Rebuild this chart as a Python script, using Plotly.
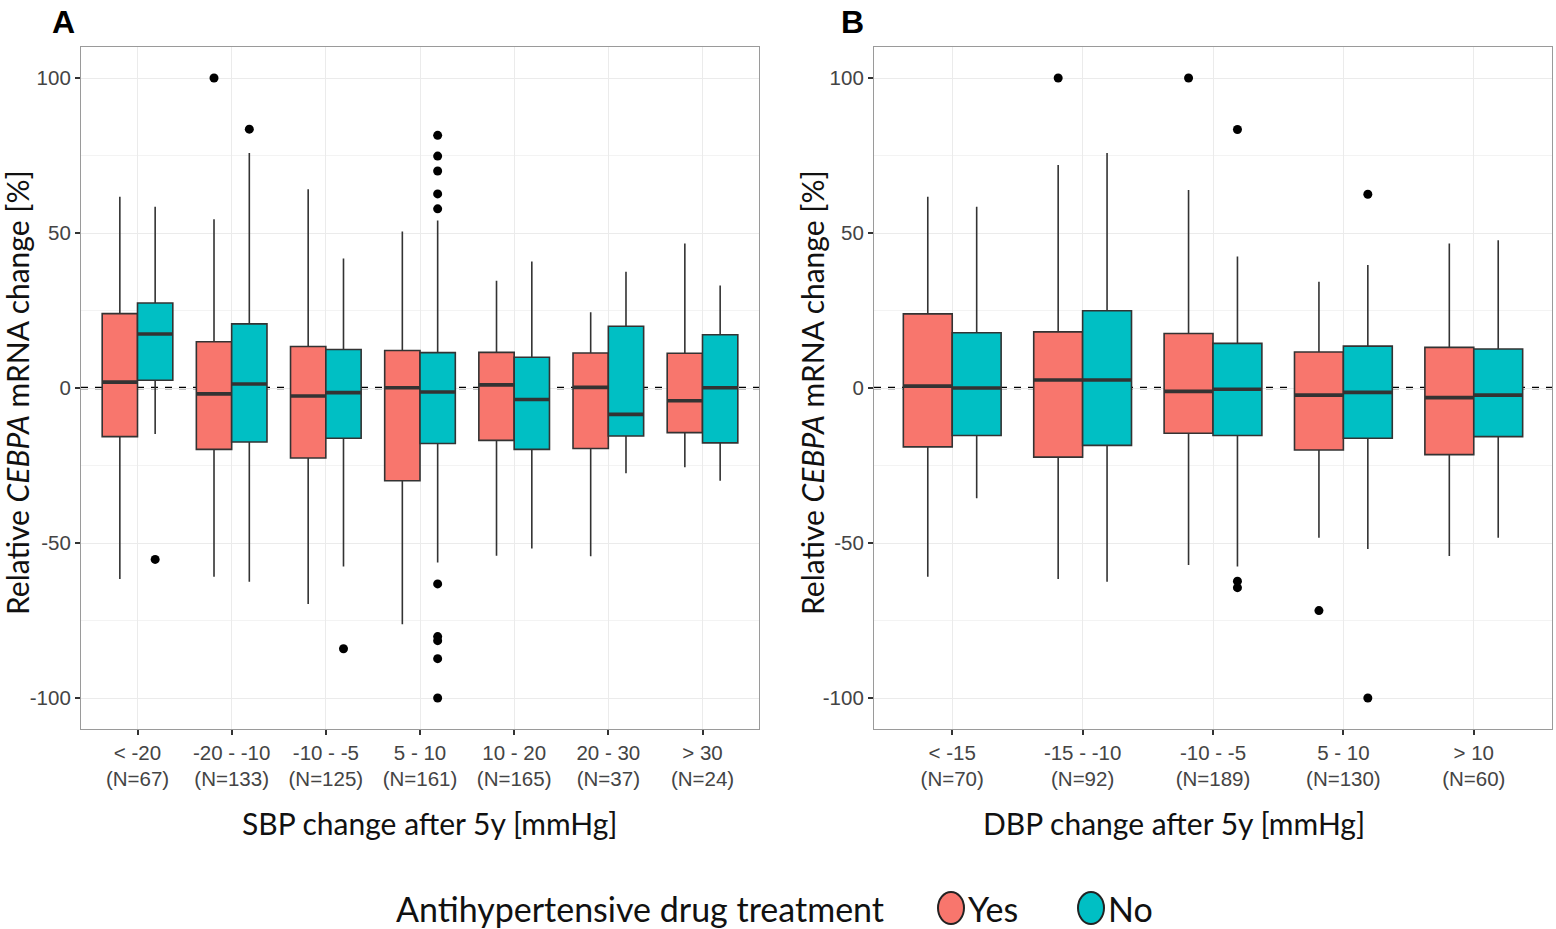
import plotly.graph_objects as go

# ---- data -------------------------------------------------------------
sbp_cats = ["< -20<br>(N=67)", "-20 - -10<br>(N=133)", "-10 - -5<br>(N=125)",
            "5 - 10<br>(N=161)", "10 - 20<br>(N=165)", "20 - 30<br>(N=37)",
            "> 30<br>(N=24)"]
dbp_cats = ["< -15<br>(N=70)", "-15 - -10<br>(N=92)", "-10 - -5<br>(N=189)",
            "5 - 10<br>(N=130)", "> 10<br>(N=60)"]

# SBP panel, treated (Yes)
sbp_yes_low = [-61.6, -60.9, -69.7, -76.2, -54.1, -54.3, -25.6]
sbp_yes_q1 = [-15.7, -19.8, -22.6, -29.9, -16.9, -19.5, -14.4]
sbp_yes_med = [1.9, -1.9, -2.6, 0.1, 1.0, 0.2, -4.1]
sbp_yes_q3 = [24.0, 14.9, 13.4, 12.1, 11.5, 11.3, 11.2]
sbp_yes_high = [61.7, 54.4, 64.1, 50.5, 34.6, 24.4, 46.6]
sbp_yes_out = [[], [100.0], [], [], [], [], []]

# SBP panel, untreated (No)
sbp_no_low = [-14.8, -62.5, -57.6, -56.3, -51.8, -27.5, -29.9]
sbp_no_q1 = [2.5, -17.4, -16.2, -17.9, -19.8, -15.5, -17.7]
sbp_no_med = [17.4, 1.3, -1.5, -1.3, -3.7, -8.5, 0.1]
sbp_no_q3 = [27.4, 20.7, 12.4, 11.4, 9.9, 19.9, 17.2]
sbp_no_high = [58.5, 75.8, 41.8, 54.0, 40.8, 37.5, 33.1]
sbp_no_out = [[-55.3], [83.5], [-84.1],
              [81.5, 74.8, 70.0, 62.6, 57.8, -63.2, -80.2, -81.5, -87.3, -100.0],
              [], [], []]

# DBP panel, treated (Yes)
dbp_yes_low = [-60.9, -61.6, -57.1, -48.3, -54.2]
dbp_yes_q1 = [-19.0, -22.3, -14.6, -20.0, -21.5]
dbp_yes_med = [0.6, 2.6, -1.1, -2.3, -3.1]
dbp_yes_q3 = [23.9, 18.1, 17.6, 11.6, 13.1]
dbp_yes_high = [61.7, 71.9, 63.9, 34.3, 46.6]
dbp_yes_out = [[], [100.0], [100.0], [-71.8], []]

# DBP panel, untreated (No)
dbp_no_low = [-35.6, -62.5, -57.6, -51.9, -48.3]
dbp_no_q1 = [-15.3, -18.5, -15.3, -16.2, -15.7]
dbp_no_med = [0.0, 2.6, -0.4, -1.4, -2.3]
dbp_no_q3 = [17.8, 24.9, 14.4, 13.5, 12.6]
dbp_no_high = [58.5, 75.8, 42.4, 39.7, 47.7]
dbp_no_out = [[], [], [83.4, -62.3, -64.4], [62.5, -100.0], []]

y_ticks = [-100, -50, 0, 50, 100]
y_minor = [-75, -25, 25, 75]

# ---- style ------------------------------------------------------------
W, H = 1556, 929
RED, TEAL = "#F8766D", "#00BFC4"
EDGE = "#333333"
GRID = "#ebebeb"
BOX_W = 0.375
TICK_FONT = dict(family="Liberation Sans, Arial", size=20.5, color="#444444")
TITLE_FONT = dict(family="Lato, Open Sans", size=30, color="#111111")
LEGEND_FONT = dict(family="Lato, Open Sans", size=34, color="#111111")

fig = go.Figure()

panels = [
    ("x", "y", sbp_cats, [
        (RED, sbp_yes_low, sbp_yes_q1, sbp_yes_med, sbp_yes_q3, sbp_yes_high, sbp_yes_out, -1),
        (TEAL, sbp_no_low, sbp_no_q1, sbp_no_med, sbp_no_q3, sbp_no_high, sbp_no_out, 1),
    ]),
    ("x2", "y2", dbp_cats, [
        (RED, dbp_yes_low, dbp_yes_q1, dbp_yes_med, dbp_yes_q3, dbp_yes_high, dbp_yes_out, -1),
        (TEAL, dbp_no_low, dbp_no_q1, dbp_no_med, dbp_no_q3, dbp_no_high, dbp_no_out, 1),
    ]),
]

for xa, ya, cats, groups in panels:
    for color, low, q1, med, q3, high, outs, side in groups:
        xs = [i + side * BOX_W / 2 for i in range(len(cats))]
        fig.add_trace(go.Box(
            x=xs, lowerfence=low, q1=q1, median=med, q3=q3, upperfence=high,
            width=BOX_W, whiskerwidth=0, fillcolor=color,
            line=dict(color=EDGE, width=1.6), boxpoints=False,
            xaxis=xa, yaxis=ya, showlegend=False, hoverinfo="skip",
        ))
        # thicker median bars (ggplot style)
        mx, my = [], []
        for x, m in zip(xs, med):
            mx += [x - BOX_W / 2, x + BOX_W / 2, None]
            my += [m, m, None]
        fig.add_trace(go.Scatter(
            x=mx, y=my, mode="lines", line=dict(color=EDGE, width=3.6),
            xaxis=xa, yaxis=ya, showlegend=False, hoverinfo="skip",
        ))
        # outliers
        ox, oy = [], []
        for x, pts in zip(xs, outs):
            ox += [x] * len(pts)
            oy += pts
        fig.add_trace(go.Scatter(
            x=ox, y=oy, mode="markers", marker=dict(color="black", size=9),
            xaxis=xa, yaxis=ya, showlegend=False, hoverinfo="skip",
        ))

# ---- axes -------------------------------------------------------------
def px_x(p):
    return p / W

def px_y(p):
    return 1 - p / H

y_dom = [px_y(729), px_y(47)]
axis_common = dict(
    showline=True, mirror=True, linecolor="#9a9a9a", linewidth=1.2,
    ticks="outside", ticklen=5, tickwidth=1.5, tickcolor=EDGE,
    showgrid=True, gridcolor=GRID, gridwidth=1.2, zeroline=False,
    tickfont=TICK_FONT,
)
yaxis_common = dict(
    axis_common, range=[-110, 110], tickvals=y_ticks,
    ticktext=[str(v) for v in y_ticks], domain=y_dom,
    minor=dict(tickvals=y_minor, showgrid=True, gridcolor="#f3f3f3", gridwidth=1),
)

fig.update_layout(
    width=W, height=H, margin=dict(l=0, r=0, t=0, b=0),
    paper_bgcolor="white", plot_bgcolor="white", boxmode="overlay",
    xaxis=dict(axis_common, domain=[px_x(81), px_x(759)], range=[-0.6, 6.6],
               tickvals=list(range(len(sbp_cats))), ticktext=sbp_cats, anchor="y"),
    xaxis2=dict(axis_common, domain=[px_x(874), px_x(1552)], range=[-0.6, 4.6],
                tickvals=list(range(len(dbp_cats))), ticktext=dbp_cats, anchor="y2"),
    yaxis=dict(yaxis_common, anchor="x"),
    yaxis2=dict(yaxis_common, anchor="x2"),
)

# dashed reference line at zero
for xa, ya in [("x", "y"), ("x2", "y2")]:
    fig.add_shape(type="line", xref=f"{xa} domain", yref=ya, x0=0, x1=1, y0=0, y1=0,
                  line=dict(color="black", width=2.4, dash="7px,7px"), layer="below")

# ---- titles, panel letters, legend -------------------------------------
ann = []
ann.append(dict(text="Relative <i>CEBPA</i> mRNA change [%]", x=px_x(17), y=px_y(393),
                textangle=-90, font=TITLE_FONT))
ann.append(dict(text="Relative <i>CEBPA</i> mRNA change [%]", x=px_x(812), y=px_y(393),
                textangle=-90, font=TITLE_FONT))
ann.append(dict(text="SBP change after 5y [mmHg]", x=px_x(430), y=px_y(823), font=TITLE_FONT))
ann.append(dict(text="DBP change after 5y [mmHg]", x=px_x(1174), y=px_y(823), font=TITLE_FONT))
ann.append(dict(text="<b>A</b>", x=px_x(64), y=px_y(22),
                font=dict(family="Liberation Sans, Arial", size=32, color="black")))
ann.append(dict(text="<b>B</b>", x=px_x(853), y=px_y(22),
                font=dict(family="Liberation Sans, Arial", size=32, color="black")))
ann.append(dict(text="Antihypertensive drug treatment", x=px_x(394), y=px_y(908),
                xanchor="left", font=LEGEND_FONT))
ann.append(dict(text="Yes", x=px_x(966), y=px_y(908), xanchor="left", font=LEGEND_FONT))
ann.append(dict(text="No", x=px_x(1106), y=px_y(908), xanchor="left", font=LEGEND_FONT))
for a in ann:
    a.setdefault("xanchor", "center")
    fig.add_annotation(xref="paper", yref="paper", showarrow=False, yanchor="middle", **a)

for cx, col in [(951, RED), (1091, TEAL)]:
    fig.add_shape(type="circle", xref="paper", yref="paper",
                  x0=px_x(cx - 13), x1=px_x(cx + 13), y0=px_y(908 + 16), y1=px_y(908 - 16),
                  fillcolor=col, line=dict(color="#222222", width=2))

fig.write_html("out.html")
